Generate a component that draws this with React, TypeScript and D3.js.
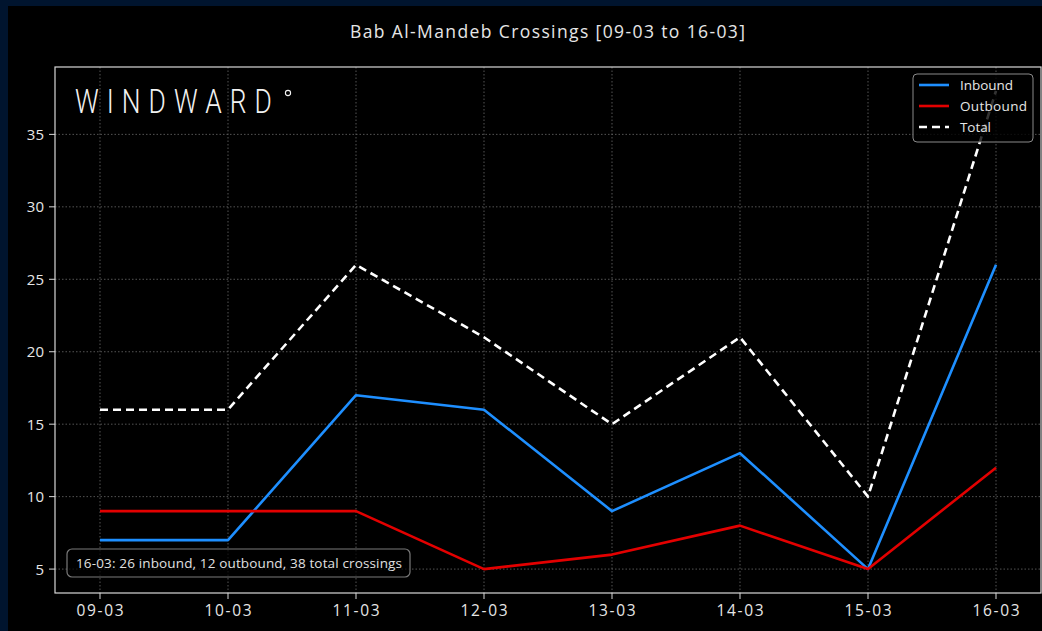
import React from "react";
import * as d3 from "d3";

const categories = ["09-03", "10-03", "11-03", "12-03", "13-03", "14-03", "15-03", "16-03"];
const inbound = [7, 7, 17, 16, 9, 13, 5, 26];
const outbound = [9, 9, 9, 5, 6, 8, 5, 12];
const total = [16, 16, 26, 21, 15, 21, 10, 38];
const yTicks = [5, 10, 15, 20, 25, 30, 35];
const title = "Bab Al-Mandeb Crossings [09-03 to 16-03]";
const note = "16-03: 26 inbound, 12 outbound, 38 total crossings";

const W = 1042, H = 631;
const L = 55, R = 1041, T = 67, B = 593;
const FONT = "'Open Sans', 'DejaVu Sans', sans-serif";

export default function App() {
  const x = d3.scalePoint<string>().domain(categories).range([100, 996]);
  const dmin = 5, dmax = 38, pad = (dmax - dmin) * 0.05;
  const y = d3.scaleLinear().domain([dmin - pad, dmax + pad]).range([B, T]);
  const line = (vals: number[]) =>
    d3.line<number>().x((_, i) => x(categories[i]) as number).y((v) => y(v))(vals) as string;
  const series = [
    { name: "Inbound", vals: inbound, color: "#1e8fff", dash: undefined, tl: 53 },
    { name: "Outbound", vals: outbound, color: "#e30000", dash: undefined, tl: 67 },
    { name: "Total", vals: total, color: "#ffffff", dash: "8,5", tl: 31 },
  ];
  return (
    <svg width={W} height={H} style={{ position: "absolute", left: 0, top: 0, display: "block" }}>
      <rect x={0} y={0} width={W} height={H} fill="#00142e" />
      <rect x={8} y={6} width={W - 8} height={H - 6} fill="#000000" />
      <text x={350} y={38} fill="#e6e6e6" fontFamily={FONT} fontSize={17.5} textLength={395} lengthAdjust="spacing">
        {title}
      </text>
      {/* grid */}
      {categories.map((c) => (
        <line key={c} x1={x(c)} x2={x(c)} y1={T} y2={B} stroke="#6a6a6a" strokeWidth={0.8} strokeDasharray="1.5,2" />
      ))}
      {yTicks.map((t) => (
        <line key={t} x1={L} x2={R} y1={y(t)} y2={y(t)} stroke="#6a6a6a" strokeWidth={0.8} strokeDasharray="1.5,2" />
      ))}
      {/* logo */}
      <g transform="translate(75,113) scale(0.8,1)">
        <text x={0} y={0} fill="#f2f2f2" fontFamily="'Roboto', 'DejaVu Sans', sans-serif" fontWeight={300} fontSize={33} textLength={246} lengthAdjust="spacing">
          WINDWARD
        </text>
      </g>
      <circle cx={288} cy={93} r={2.6} fill="none" stroke="#f2f2f2" strokeWidth={1.1} />
      {/* series */}
      {series.map((s) => (
        <path key={s.name} d={line(s.vals)} fill="none" stroke={s.color} strokeWidth={2.6} strokeDasharray={s.dash} strokeLinejoin="round" />
      ))}
      {/* spines */}
      <rect x={L} y={T} width={R - L} height={B - T} fill="none" stroke="#d8d8d8" strokeWidth={1.2} />
      {/* ticks */}
      {categories.map((c) => (
        <g key={c}>
          <line x1={x(c)} x2={x(c)} y1={B} y2={B + 6} stroke="#d8d8d8" strokeWidth={1} />
          <text x={(x(c) as number) - 23.5} y={B + 23} fill="#e6e6e6" fontFamily={FONT} fontSize={15.5} textLength={47} lengthAdjust="spacing">
            {c}
          </text>
        </g>
      ))}
      {yTicks.map((t) => (
        <g key={t}>
          <line x1={L - 6} x2={L} y1={y(t)} y2={y(t)} stroke="#d8d8d8" strokeWidth={1} />
          <text x={L - 11} y={y(t) + 5.5} textAnchor="end" fill="#e6e6e6" fontFamily={FONT} fontSize={15}>
            {t}
          </text>
        </g>
      ))}
      {/* annotation */}
      <rect x={67} y={549} width={343} height={28} rx={5} fill="#000000" fillOpacity={0.7} stroke="#7a7a7a" strokeWidth={1.2} />
      <text x={76} y={568} fill="#e0e0e0" fontFamily={FONT} fontSize={13.5} textLength={326} lengthAdjust="spacing">
        {note}
      </text>
      {/* legend */}
      <rect x={913} y={74} width={120} height={68} rx={4} fill="#000000" fillOpacity={0.8} stroke="#8a8a8a" strokeWidth={1} />
      {series.map((s, i) => (
        <g key={s.name}>
          <line x1={919} x2={949} y1={85 + i * 21} y2={85 + i * 21} stroke={s.color} strokeWidth={2.6} strokeDasharray={s.dash} />
          <text x={960} y={85 + i * 21 + 5} fill="#e6e6e6" fontFamily={FONT} fontSize={13.5} textLength={s.tl} lengthAdjust="spacing">
            {s.name}
          </text>
        </g>
      ))}
    </svg>
  );
}
